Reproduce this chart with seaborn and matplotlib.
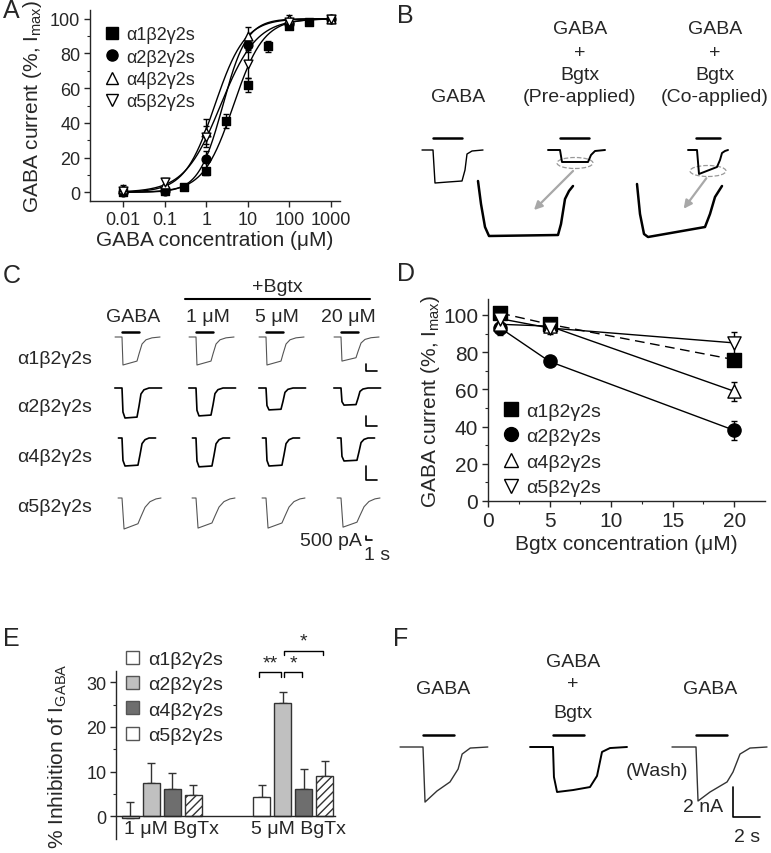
import numpy as np
import pandas as pd
import matplotlib.pyplot as plt
import seaborn as sns
from matplotlib.lines import Line2D
from matplotlib.patches import Patch, Ellipse

# ============================
# 1. Data
# ============================
subtypes = ["α1β2γ2s", "α2β2γ2s", "α4β2γ2s", "α5β2γ2s"]

# A: GABA concentration-response (% of Imax)
a1_conc = [0.01, 0.1, 0.3, 1, 3, 10, 30, 100, 300, 1000]
a1_resp = [0, 1, 3, 12, 41, 62, 84, 96, 98, 100]
a1_err = [1, 1, 1, 2, 4, 4, 3, 2, 1, 1]
a_conc = [0.01, 0.1, 1, 10, 100, 1000]
a2_resp = [0, 1, 19, 85, 97, 100]
a2_err = [1, 1, 5, 4, 2, 1]
a4_resp = [2, 5, 35, 90, 100, 100]
a4_err = [2, 2, 7, 5, 2, 1]
a5_resp = [1, 6, 32, 74, 98, 100]
a5_err = [2, 2, 6, 8, 2, 1]
fit_ec50 = [4.5, 2.5, 1.6, 2.2]   # Hill fits drawn through the points
fit_hill = [1.2, 1.5, 1.2, 1.0]

# D: GABA current vs Bgtx concentration
d_conc = [1, 5, 20]
d_a1 = [101, 95, 76]
d_a1_err = [3, 2, 3]
d_a2 = [93, 75, 38]
d_a2_err = [4, 2, 5]
d_a4 = [95, 94, 59]
d_a4_err = [4, 2, 5]
d_a5 = [98, 93, 85]
d_a5_err = [4, 3, 6]

# E: % inhibition of I_GABA
e_doses = ["1 μM BgTx", "5 μM BgTx"]
e_a1 = [-0.5, 4.3]
e_a2 = [7.5, 25.3]
e_a4 = [6.0, 6.0]
e_a5 = [4.8, 9.0]
e_a1_err = [3.7, 2.7]
e_a2_err = [4.5, 2.5]
e_a4_err = [3.7, 4.5]
e_a5_err = [2.2, 3.3]

# B: example traces (time s, current a.u.)
b_gaba_t = [-1.1, 0, 0.2, 1.5, 2.9, 3.2, 3.4, 3.9, 5.0]
b_gaba_i = [0, 0, -3.3, -3.2, -3.1, -2.0, -0.4, -0.1, 0]
b_pre_t = [-1.2, 0, 0.2, 1.4, 2.8, 3.1, 3.5, 4.5]
b_pre_i = [0, 0, -1.2, -1.2, -1.2, -0.5, -0.1, 0]
b_co_t = [-0.9, 0, 0.2, 2.0, 2.3, 2.5, 2.8, 3.1]
b_co_i = [0, 0, -2.4, -1.7, -1.0, -0.3, -0.1, 0]
b_pre_zoom_t = [0, 0.3, 0.7, 1.1, 8.0, 8.3, 8.7, 9.1, 9.5]
b_pre_zoom_i = [-3.1, -5.4, -7.7, -8.6, -8.5, -7.4, -4.9, -4.1, -3.6]
b_co_zoom_t = [0, 0.3, 0.7, 1.1, 6.8, 7.3, 7.8, 8.5]
b_co_zoom_i = [-3.4, -6.4, -8.4, -8.7, -7.7, -6.4, -4.7, -3.6]

# C: trace templates per subtype (time s, fraction of peak) and relative amplitudes
c_cols = ["GABA", "1 μM", "5 μM", "20 μM"]
c_t = [
    [-0.58, 0, 0.08, 1.25, 1.42, 1.67, 2.0, 2.5, 3.17],
    [-0.6, 0, 0.08, 0.25, 1.25, 1.42, 1.58, 1.83, 2.25, 3.3],
    [-0.3, 0, 0.08, 0.25, 1.33, 1.5, 1.67, 1.92, 2.25, 2.8],
    [-0.33, 0, 0.17, 1.33, 1.58, 1.92, 2.33, 2.83, 3.25],
]
c_frac = [
    [0, 0, -1, -0.86, -0.6, -0.25, -0.1, -0.03, 0],
    [0, 0, -0.8, -1, -0.97, -0.6, -0.2, -0.06, 0, 0],
    [0, 0, -0.8, -1, -0.97, -0.6, -0.2, -0.06, 0, 0],
    [0, 0, -1, -0.83, -0.6, -0.3, -0.12, -0.03, 0],
]
c_rel_amp = [
    [1, 1, 1, 0.86],
    [1, 0.93, 0.73, 0.57],
    [1, 1.03, 1, 0.82],
    [1, 0.97, 0.97, 0.94],
]
c_ctrl_amp = [2.8, 3.0, 2.8, 3.1]

# F: GABA / GABA+Bgtx / wash traces (time s, current nA)
f_t = [
    [-1.7, 0, 0.15, 1.04, 2.0, 2.6, 2.9, 3.5, 4.8],
    [-1.7, 0, 0.07, 0.3, 1.48, 2.74, 3.26, 3.63, 4.22, 5.48],
    [-1.78, 0, 0.15, 1.04, 2.3, 2.74, 3.26, 4.0, 5.26],
]
f_i = [
    [0, 0, -3.67, -2.93, -2.33, -1.47, -0.47, -0.07, 0],
    [0, 0, -2.0, -3.0, -2.87, -2.67, -1.93, -0.33, -0.07, 0],
    [0, 0, -3.6, -3.0, -2.33, -1.67, -0.47, -0.07, 0],
]

# ============================
# 2. Figure setup
# ============================
sns.set_style("ticks")
plt.rcParams["font.family"] = ["Liberation Sans", "DejaVu Sans"]
plt.rcParams["mathtext.fontset"] = "custom"
plt.rcParams["mathtext.rm"] = "Liberation Sans"
plt.rcParams["axes.linewidth"] = 1.0
plt.rcParams["xtick.major.width"] = 1.0
plt.rcParams["ytick.major.width"] = 1.0

W, H = 771, 854
fig = plt.figure(figsize=(W / 100, H / 100), dpi=100)


def px_axes(l, t, r, b):
    return fig.add_axes([l / W, 1 - b / H, (r - l) / W, (b - t) / H])


def ftext(x, y, s, size=14, ha="center", **kw):
    fig.text(x / W, 1 - y / H, s, fontsize=size, ha=ha, va="center", **kw)


def overlay(l, t, r, b, ppx, ppy):
    ax = px_axes(l, t, r, b)
    ax.set_xlim(0, (r - l) / ppx)
    ax.set_ylim(-(b - t) / ppy, 0)
    ax.axis("off")
    return ax, (lambda px: (px - l) / ppx), (lambda py: -(py - t) / ppy)


def trace(ax, t, i, x0, y0, amp=1.0, color="black", lw=1.0):
    sns.lineplot(x=x0 + np.asarray(t, float), y=y0 + amp * np.asarray(i, float),
                 sort=False, estimator=None, color=color, lw=lw, ax=ax)


def style_axes(ax, size=13):
    sns.despine(ax=ax)
    ax.tick_params(which="major", direction="out", length=4, labelsize=size, pad=3)
    ax.tick_params(which="minor", direction="out", length=2, width=0.8)


markers = ["s", "o", "^", "v"]
faces = ["black", "black", "white", "white"]

# ============================
# Panel A
# ============================
axA = px_axes(90, 11, 340, 202)
xs = np.logspace(-2, 3, 300)
a_series = [(a1_conc, a1_resp, a1_err), (a_conc, a2_resp, a2_err),
            (a_conc, a4_resp, a4_err), (a_conc, a5_resp, a5_err)]
for k, (cx, cy, ce) in enumerate(a_series):
    fit = 100 / (1 + (fit_ec50[k] / xs) ** fit_hill[k])
    sns.lineplot(x=xs, y=fit, color="black", lw=1, ax=axA)
    axA.errorbar(cx, cy, yerr=ce, fmt="none", ecolor="black", elinewidth=1, capsize=2, zorder=2)
    sns.scatterplot(x=cx, y=cy, marker=markers[k], s=40, color=faces[k],
                    edgecolor="black", linewidth=1, ax=axA, zorder=3)
axA.set_xscale("log")
axA.set_xlim(0.0016, 1650)
axA.set_ylim(-5, 105)
axA.set_xticks([0.01, 0.1, 1, 10, 100, 1000])
axA.set_xticklabels(["0.01", "0.1", "1", "10", "100", "1000"])
axA.set_yticks([0, 20, 40, 60, 80, 100])
axA.set_yticks(np.arange(10, 100, 20), minor=True)
style_axes(axA, 13)
axA.set_xlabel("GABA concentration (μM)", fontsize=15, labelpad=2)
axA.set_ylabel("GABA current (%, I$_{\\rm max}$)", fontsize=15, labelpad=4)
handles = [Line2D([], [], ls="none", marker=m, ms=8, mfc=f, mec="black", mew=1)
           for m, f in zip(markers, faces)]
axA.legend(handles, subtypes, loc="upper left", bbox_to_anchor=(0.06, 0.915), frameon=False,
           fontsize=13, handlelength=0.75, handletextpad=0.4, labelspacing=0.3,
           borderaxespad=0, borderpad=0)

# ============================
# Panel B
# ============================
axB, bx, by = overlay(380, 120, 771, 250, 10, 10)
trace(axB, b_gaba_t, b_gaba_i, bx(433), by(151))
trace(axB, b_pre_t, b_pre_i, bx(560), by(151), lw=1.4)
trace(axB, b_co_t, b_co_i, bx(697), by(151), lw=1.4)
trace(axB, b_pre_zoom_t, b_pre_zoom_i, bx(478), by(151), lw=1.8)
trace(axB, b_co_zoom_t, b_co_zoom_i, bx(637), by(151), lw=1.8)
for x0, x1 in [(433, 462), (560, 589), (696, 720)]:
    axB.plot([bx(x0), bx(x1)], [by(139), by(139)], color="black", lw=1.8)
for cx, cy in [(575, 164), (708, 172)]:
    axB.add_patch(Ellipse((bx(cx), by(cy)), 3.6, 1.1, fill=False, ec="#999999", ls="--", lw=0.9))
for (x0, y0), (x1, y1) in [((575, 170), (532, 213)), ((708, 177), (682, 212))]:
    axB.annotate("", xy=(bx(x1), by(y1)), xytext=(bx(x0), by(y0)),
                 arrowprops=dict(arrowstyle="-|>", color="#a8a8a8", lw=1.6, mutation_scale=12))
ftext(458, 97, "GABA")
for cx, tag in [(580, "(Pre-applied)"), (715, "(Co-applied)")]:
    ftext(cx, 29, "GABA")
    ftext(cx, 53, "+")
    ftext(cx, 75, "Bgtx")
    ftext(cx, 97, tag)

# ============================
# Panel C
# ============================
axC, cx_, cy_ = overlay(100, 295, 390, 560, 12, 10)
c_drop_px = [122, 196, 266, 341]
c_base_px = [338, 389, 439, 499]
c_colors = ["#555555", "black", "black", "#555555"]
c_lw = [0.8, 1.2, 1.2, 0.8]
for r in range(4):
    for c in range(4):
        trace(axC, c_t[r], c_frac[r], cx_(c_drop_px[c]), cy_(c_base_px[r]),
              amp=c_ctrl_amp[r] * c_rel_amp[r][c], color=c_colors[r], lw=c_lw[r])
for c in range(4):
    axC.plot([cx_(c_drop_px[c]), cx_(c_drop_px[c] + 17)], [cy_(333)] * 2, color="black", lw=1.8)
axC.plot([cx_(185), cx_(370)], [cy_(300)] * 2, color="black", lw=1.5)
for y0, y1, x1 in [(365, 372, 377), (417, 427, 377), (467, 481, 377), (537, 541, 372)]:
    axC.plot([cx_(366), cx_(366), cx_(x1)], [cy_(y0), cy_(y1), cy_(y1)], color="black", lw=1.2)
ftext(277, 287, "+Bgtx")
for c, x in enumerate([133, 208, 277, 348]):
    ftext(x, 317, c_cols[c])
for r, y in enumerate([360, 408, 458, 508]):
    ftext(17, y, subtypes[r], ha="left")
ftext(362, 541, "500 pA", ha="right")
ftext(377, 555, "1 s")

# ============================
# Panel D
# ============================
axD = px_axes(488, 300, 765, 502)
d_series = [(d_a1, d_a1_err), (d_a2, d_a2_err), (d_a4, d_a4_err), (d_a5, d_a5_err)]
for k, (dy, de) in enumerate(d_series):
    ls = (0, (7, 4)) if k == 0 else "-"
    sns.lineplot(x=d_conc, y=dy, color="black", lw=1, linestyle=ls, ax=axD)
    axD.errorbar(d_conc, dy, yerr=de, fmt="none", ecolor="black", elinewidth=1, capsize=2, zorder=2)
    sns.scatterplot(x=d_conc, y=dy, marker=markers[k], s=90, color=faces[k],
                    edgecolor="black", linewidth=1, ax=axD, zorder=3)
axD.set_xlim(0, 22.5)
axD.set_ylim(0, 108.6)
axD.set_xticks([0, 5, 10, 15, 20])
axD.set_xticks(np.arange(2.5, 22.5, 5), minor=True)
axD.set_yticks([0, 20, 40, 60, 80, 100])
axD.set_yticks(np.arange(10, 110, 20), minor=True)
style_axes(axD, 15)
axD.set_xlabel("Bgtx concentration (μM)", fontsize=15, labelpad=3)
axD.set_ylabel("GABA current (%, I$_{\\rm max}$)", fontsize=15, labelpad=1)
handles = [Line2D([], [], ls="none", marker=m, ms=10, mfc=f, mec="black", mew=1)
           for m, f in zip(markers, faces)]
axD.legend(handles, subtypes, loc="upper left", bbox_to_anchor=(0.05, 0.49), frameon=False,
           fontsize=14, handlelength=0.9, handletextpad=0.35, labelspacing=0.41,
           borderaxespad=0, borderpad=0)

# ============================
# Panel E
# ============================
axE = px_axes(116, 672, 335, 840)
df_e = pd.DataFrame({
    "dose": e_doses * 4,
    "subtype": np.repeat(subtypes, 2),
    "inhib": e_a1 + e_a2 + e_a4 + e_a5,
})
e_palette = ["white", "#c0c0c0", "#6e6e6e", "white"]
sns.barplot(data=df_e, x="dose", y="inhib", hue="subtype", order=e_doses, hue_order=subtypes,
            palette=e_palette, saturation=1, errorbar=None, width=0.64, gap=0.17,
            edgecolor="#333333", linewidth=1, legend=False, ax=axE)
errs = [e_a1_err, e_a2_err, e_a4_err, e_a5_err]
vals_all = [e_a1, e_a2, e_a4, e_a5]
bar_conts = list(axE.containers)
centers = []
for k, cont in enumerate(bar_conts):
    xs_bar = [p.get_x() + p.get_width() / 2 for p in cont.patches]
    axE.errorbar(xs_bar, vals_all[k], yerr=[[0, 0], errs[k]], fmt="none", ecolor="#333333",
                 elinewidth=1, capsize=3, zorder=0)
    centers.append(xs_bar)
    if k == 3:
        for p in cont.patches:
            p.set_hatch("////")
axE.set_xlim(-0.35, 1.32)
axE.set_ylim(-5.1, 32.5)
axE.spines["bottom"].set_position(("data", 0))
axE.set_xticks([0.07, 1.04])
axE.set_xticklabels(e_doses)
axE.set_yticks([0, 10, 20, 30])
axE.set_yticks([5, 15, 25], minor=True)
style_axes(axE, 13)
axE.tick_params(axis="x", length=0, pad=3, labelsize=14)
axE.set_xlabel("")
axE.set_ylabel("% Inhibition of I$_{\\rm GABA}$", fontsize=15, labelpad=12)
# significance brackets
for (i0, i1, y, lab) in [(0, 1, 32.2, "**"), (1, 2, 32.2, "*"), (1, 3, 37.0, "*")]:
    x0 = centers[i0][1] + (0.01 if i0 == 1 else -0.02)
    x1 = centers[i1][1] - (0.01 if i1 else 0)
    axE.plot([x0, x0, x1, x1], [y - 1, y, y, y - 1], color="black", lw=1, clip_on=False)
    axE.text((x0 + x1) / 2, y + 0.3, lab, ha="center", va="bottom", fontsize=14, clip_on=False)
handles = [Patch(fc=c, ec="#555555", lw=1) for c in e_palette]
axE.legend(handles, subtypes, loc="upper left", bbox_to_anchor=(0.046, 1.12), frameon=False,
           fontsize=14, handlelength=0.65, handleheight=0.65, handletextpad=0.5,
           labelspacing=0.41, borderaxespad=0, borderpad=0)

# ============================
# Panel F
# ============================
axF, fx, fy = overlay(390, 725, 771, 850, 13.5, 15)
f_drop_px = [423, 553, 696]
f_colors = ["#333333", "black", "#333333"]
for k in range(3):
    trace(axF, f_t[k], f_i[k], fx(f_drop_px[k]), fy(748), color=f_colors[k], lw=1.0 if k != 1 else 1.4)
    axF.plot([fx(f_drop_px[k]), fx(f_drop_px[k]) + 2.3], [fy(736)] * 2, color="black", lw=1.8)
axF.plot([fx(733), fx(733), fx(760)], [fy(788), fy(818), fy(818)], color="black", lw=1.2)
ftext(443, 690, "GABA")
ftext(573, 663, "GABA")
ftext(573, 685, "+")
ftext(573, 713, "Bgtx")
ftext(710, 690, "GABA")
ftext(657, 772, "(Wash)")
ftext(723, 808, "2 nA", ha="right")
ftext(747, 838, "2 s")

# panel letters
for lab, x, y in [("A", 3, 11), ("B", 397, 16), ("C", 3, 276), ("D", 397, 274), ("E", 3, 639), ("F", 393, 639)]:
    ftext(x, y, lab, size=18, ha="left")

fig.savefig("out.png", dpi=100)
